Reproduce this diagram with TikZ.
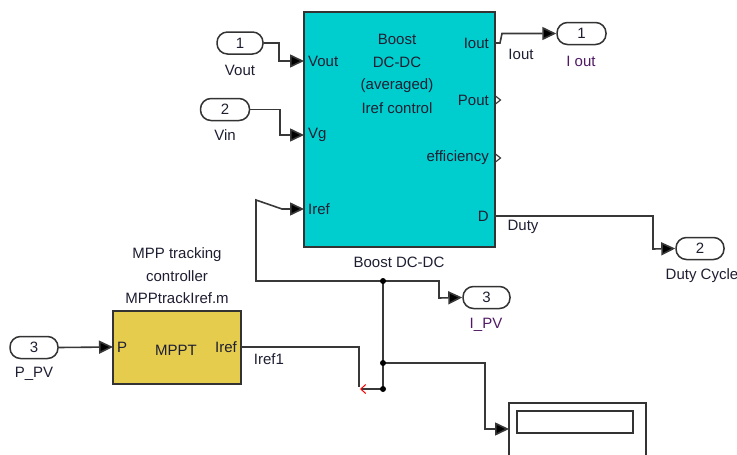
\documentclass[tikz,border=0pt]{standalone}
\usepackage{fontspec}
\setmainfont{Liberation Sans}
\usetikzlibrary{arrows.meta}
\definecolor{boostcyan}{RGB}{0,206,206}
\definecolor{mpptyellow}{RGB}{229,204,77}
\definecolor{wirecol}{RGB}{56,56,56}
\definecolor{txtcol}{RGB}{30,30,50}
\definecolor{outcol}{RGB}{80,25,100}
\begin{document}
\begin{tikzpicture}[x=1pt,y=-1pt,
  font=\fontsize{15}{18}\selectfont,
  every node/.style={text=txtcol, inner sep=0pt},
  blk/.style={draw=black!80, line width=1.7pt, rectangle, inner sep=0pt},
  portoval/.style={draw=black!80, line width=1.5pt, rectangle, rounded corners=10.5pt, minimum height=22pt, inner sep=0pt},
  wire/.style={draw=wirecol, line width=1.6pt},
  arr/.style={wire, -{Triangle[length=14pt,width=13pt,fill=black]}},
  jdot/.style={circle, fill=black, minimum size=6pt, inner sep=0pt},
]
\useasboundingbox (0,0) rectangle (737,455);

% Boost DC-DC block
\node[blk, fill=boostcyan, minimum width=191pt, minimum height=235pt] (boost) at (399.5,129.5) {};
\node (bt1) at (397,39) {Boost};
\node (bt2) at (397,62) {DC-DC};
\node (bt3) at (397,86) {(averaged)};
\node (bt4) at (397,108) {Iref control};
\node[anchor=west] (pVout) at (308,61) {Vout};
\node[anchor=west] (pVg) at (308,135) {Vg};
\node[anchor=west] (pIref) at (308,209) {Iref};
\node[anchor=east] (pIout) at (489,43) {Iout};
\node[anchor=east] (pPout) at (489,100) {Pout};
\node[anchor=east] (pEff) at (489,158) {efficiency};
\node[anchor=east] (pD) at (489,216) {D};
\node (boostlbl) at (399,262) {Boost DC-DC};
\coordinate (bVout) at (304,61);
\coordinate (bVg) at (304,135);
\coordinate (bIref) at (304,209);
\coordinate (bIout) at (495,43);
\coordinate (bD) at (495,216);
\draw[draw=black!80, line width=1.1pt] (495.5,96) -- (500.5,100) -- (495.5,104);
\draw[draw=black!80, line width=1.1pt] (495.5,154) -- (500.5,158) -- (495.5,162);

% MPPT block
\node[blk, fill=mpptyellow, minimum width=128pt, minimum height=73pt] (mppt) at (177,347.5) {};
\node[anchor=west] (mP) at (117,347) {P};
\node (mName) at (176,350) {MPPT};
\node[anchor=east] (mIref) at (237,347) {Iref};
\node (mt1) at (177,255) {MPP tracking};
\node (mt2) at (177,276) {controller};
\node (mt3) at (177,298) {MPPtrackIref.m};
\coordinate (mIn) at (113,347);
\coordinate (mOut) at (241,347);

% Inports
\node[portoval, minimum width=46pt] (in1) at (240,43) {1};
\node (in1l) at (240,70) {Vout};
\node[portoval, minimum width=49pt] (in2) at (225,109.5) {2};
\node (in2l) at (225,135) {Vin};
\node[portoval, minimum width=48pt] (in3) at (34,347.5) {3};
\node (in3l) at (34,374) {P\_PV};

% Outports
\node[portoval, minimum width=49pt] (out1) at (581.5,33.5) {1};
\node[text=outcol] (out1l) at (581,61) {I out};
\node[portoval, minimum width=48pt] (out2) at (700,248.5) {2};
\node (out2l) at (702,276) {Duty Cycle};
\node[portoval, minimum width=47pt] (out3) at (486.5,297.5) {3};
\node[text=outcol] (out3l) at (486,325) {I\_PV};

% Display block
\node[blk, line width=1.4pt, minimum width=137pt, minimum height=74pt] (disp) at (577.5,440) {};
\node[blk, line width=1.4pt, minimum width=116pt, minimum height=22pt] (dispin) at (575,422) {};
\coordinate (dIn) at (509,429);

% Signal labels
\node (sIout) at (521,54) {Iout};
\node (sDuty) at (523,227) {Duty};
\node (sIref1) at (269,359) {Iref1};

% Junctions
\coordinate (j1) at (383,281);
\coordinate (j2) at (383,363);
\coordinate (j3) at (383,389);

% Wires
\draw[arr] (in1.east) -- (279,43) -- (279,61) -- (bVout);
\draw[arr] (in2.east) -- (280,109.5) -- (280,135) -- (bVg);
\draw[arr] (j1) -- (256,281) -- (256,200) -- (282,209) -- (bIref);
\draw[arr] (bIout) -- (500,43) -- (502,33.5) -- (out1.west);
\draw[arr] (bD) -- (653,216) -- (653,249) -- (out2.west);
\draw[arr] (j1) -- (439,281) -- (439,298) -- (out3.west);
\draw[wire] (j1) -- (j3);
\draw[arr] (j2) -- (485,363) -- (485,429) -- (dIn);
\draw[arr] (in3.east) -- (mIn);
\draw[wire] (mOut) -- (359,347) -- (359,387);
\draw[wire, -{Straight Barb[length=5pt,width=9pt,color=red,line width=1pt]}] (j3) -- (360,389);

\node[jdot] at (j1) {};
\node[jdot] at (j2) {};
\node[jdot] at (j3) {};
\end{tikzpicture}
\end{document}
